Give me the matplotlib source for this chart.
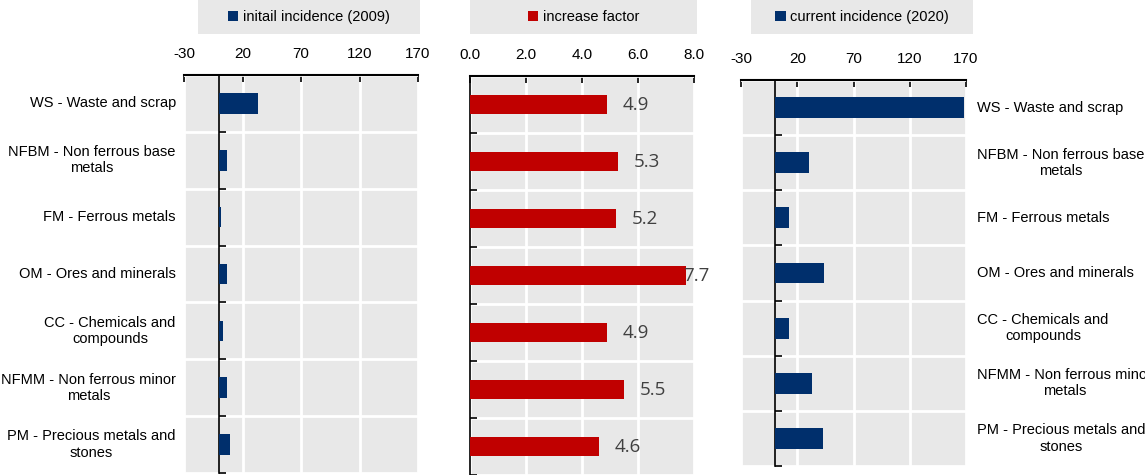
import matplotlib
matplotlib.use("Agg")
import matplotlib.pyplot as plt
from matplotlib.patches import Rectangle, Patch
from matplotlib.transforms import blended_transform_factory
import numpy as np

plt.rcParams['font.family'] = ['Liberation Sans Narrow', 'Liberation Sans', 'DejaVu Sans']

# data
categories = [
    "WS - Waste and scrap",
    "NFBM - Non ferrous base\nmetals",
    "FM - Ferrous metals",
    "OM - Ores and minerals",
    "CC - Chemicals and\ncompounds",
    "NFMM - Non ferrous minor\nmetals",
    "PM - Precious metals and\nstones",
]
initial_2009 = [33, 6.5, 2, 6.5, 3.5, 6.5, 9.5]
increase_factor = [4.9, 5.3, 5.2, 7.7, 4.9, 5.5, 4.6]
current_2020 = [168, 30, 13, 44, 13, 33.5, 43]

incidence_ticks = [-30, 20, 70, 120, 170]
factor_ticks = [0.0, 2.0, 4.0, 6.0, 8.0]

NAVY = '#002F6C'
RED = '#C00000'
PANEL_BG = '#E8E8E8'

W, H = 1145, 475
fig = plt.figure(figsize=(W / 100, H / 100), dpi=100)


def px_axes(x0, x1, y0, y1):
    # pixel box (top-left origin) -> figure fraction
    return fig.add_axes([x0 / W, 1 - y1 / H, (x1 - x0) / W, (y1 - y0) / H])


def style_panel(ax, ticks, fmt, zero):
    n = len(categories)
    ax.set_facecolor(PANEL_BG)
    ax.set_xlim(ticks[0], ticks[-1])
    ax.set_ylim(n - 0.5, -0.5)
    ax.xaxis.tick_top()
    ax.set_xticks(ticks)
    ax.set_xticklabels([fmt.format(t) for t in ticks], fontsize=11)
    ax.tick_params(axis='x', direction='in', length=5, width=1.2, color='black', pad=10)
    ax.set_yticks([])
    ax.set_yticks(np.arange(-0.5, n, 1.0), minor=True)
    ax.tick_params(axis='y', which='minor', direction='in', length=5, width=1.2,
                   color='black', labelleft=False)
    ax.grid(True, axis='x', color='white', linewidth=2)
    ax.grid(True, axis='y', which='minor', color='white', linewidth=2)
    ax.set_axisbelow(True)
    for s in ['right', 'bottom']:
        ax.spines[s].set_visible(False)
    ax.spines['top'].set_linewidth(1.5)
    ax.spines['left'].set_position(('data', zero))
    ax.spines['left'].set_linewidth(1.2)


def legend_box(x0, x1, label, color):
    fig.patches.append(Rectangle((x0 / W, 1 - 34 / H), (x1 - x0) / W, 34 / H,
                                 transform=fig.transFigure, facecolor=PANEL_BG,
                                 edgecolor='none'))
    fig.legend(handles=[Patch(facecolor=color, label=label)], loc='center',
               bbox_to_anchor=((x0 + x1) / 2 / W, 1 - 17 / H), frameon=False,
               fontsize=10.5, handlelength=0.7, handleheight=0.7, handletextpad=0.3)


y = np.arange(len(categories))

# left panel: initial incidence
ax1 = px_axes(184, 418, 75, 473)
style_panel(ax1, incidence_ticks, '{:d}', 0)
ax1.barh(y, initial_2009, height=0.36, color=NAVY, zorder=3)
tr1 = blended_transform_factory(ax1.transAxes, ax1.transData)
for i, c in enumerate(categories):
    ax1.text(-0.035, i, c, transform=tr1, ha='right', va='center',
             multialignment='center', fontsize=10.5)
legend_box(198, 420, 'initail incidence (2009)', NAVY)

# middle panel: increase factor
ax2 = px_axes(470, 694, 76, 475)
style_panel(ax2, factor_ticks, '{:.1f}', 0)
ax2.barh(y, increase_factor, height=0.34, color=RED, zorder=3)
for i, v in enumerate(increase_factor):
    ax2.text(min(v + 1.03, 8.1), i, f'{v:.1f}', ha='center', va='center',
             fontsize=13.5, color='#404040', family=['Open Sans', 'DejaVu Sans'],
             zorder=4)
legend_box(470, 697, 'increase factor', RED)

# right panel: current incidence
ax3 = px_axes(741, 966, 80, 466)
style_panel(ax3, incidence_ticks, '{:d}', 0)
ax3.barh(y, current_2020, height=0.38, color=NAVY, zorder=3)
tr3 = blended_transform_factory(ax3.transAxes, ax3.transData)
for i, c in enumerate(categories):
    ax3.text(1.05, i, c, transform=tr3, ha='left', va='center',
             multialignment='center', fontsize=10.5)
legend_box(751, 973, 'current incidence (2020)', NAVY)

fig.savefig('out.png', dpi=100, facecolor='white')
